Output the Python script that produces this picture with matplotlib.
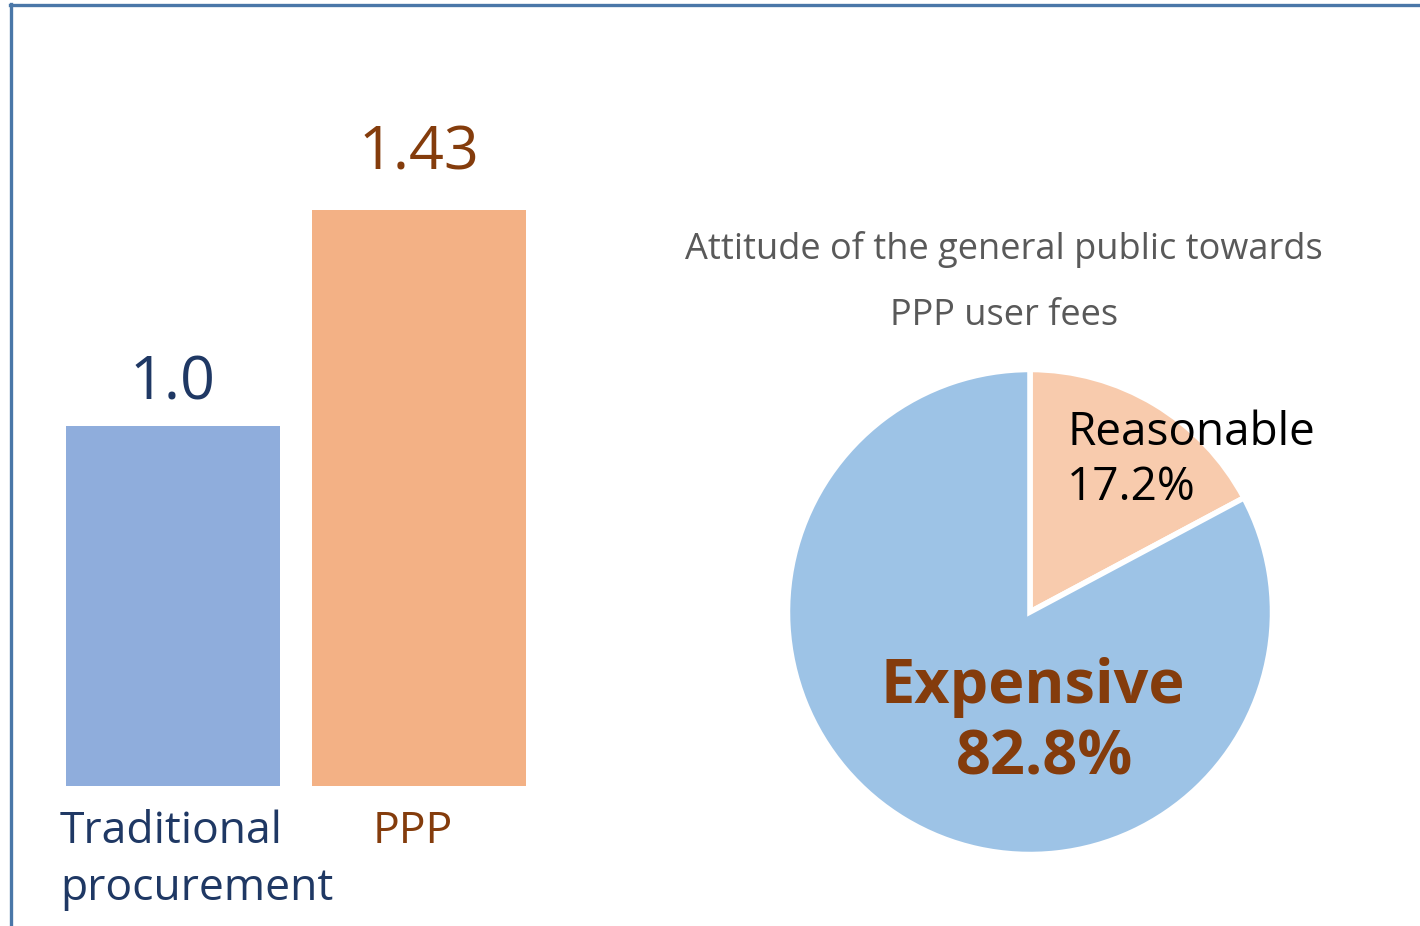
import matplotlib.pyplot as plt
from matplotlib.lines import Line2D

plt.rcParams['font.family'] = ['Open Sans', 'DejaVu Sans']

# data
bar_labels = ['Traditional\nprocurement', 'PPP']
bar_values = [1.0, 1.43]
bar_value_text = ['1.0', '1.43']
bar_colors = ['#8faddc', '#f3b185']
text_colors = ['#1f3864', '#843c0c']

pie_labels = ['Reasonable', 'Expensive']
pie_values = [17.2, 82.8]
pie_colors = ['#f8cbad', '#9dc3e6']
pie_title = ['Attitude of the general public towards', 'PPP user fees']

W, H = 1420, 926
fig = plt.figure(figsize=(W / 100, H / 100), dpi=100)

# bar chart (axis does not start at zero, as in the original)
ax = fig.add_axes([50 / W, 140 / H, 500 / W, 786 / H])
x = [0, 1]
ax.bar(x, bar_values, width=0.87, color=bar_colors)
ax.set_xlim(-0.5, 1.533)
ax.set_ylim(0.283, 1.849)
ax.axis('off')
ax.text(0, bar_values[0] + 0.085, bar_value_text[0], ha='center', va='center',
        fontsize=44, color=text_colors[0])
ax.text(1, bar_values[1] + 0.113, bar_value_text[1], ha='center', va='center',
        fontsize=44, color=text_colors[1])
fig.text(60 / W, 1 - 832 / H, bar_labels[0].split('\n')[0], ha='left', va='center',
         fontsize=32, color=text_colors[0])
fig.text(60 / W, 1 - 889 / H, bar_labels[0].split('\n')[1], ha='left', va='center',
         fontsize=32, color=text_colors[0])
fig.text(413 / W, 1 - 832 / H, bar_labels[1], ha='center', va='center',
         fontsize=32, color=text_colors[1])

# pie chart
pax = fig.add_axes([770 / W, 54 / H, 520 / W, 520 / H])
pax.pie(pie_values, colors=pie_colors, startangle=90, counterclock=False,
        wedgeprops=dict(edgecolor='white', linewidth=4))
pax.set_xlim(-1.072, 1.072)
pax.set_ylim(-1.072, 1.072)
pax.set_aspect('equal')

fig.text(1004 / W, 1 - 250 / H, pie_title[0], ha='center', va='center',
         fontsize=26, color='#595959')
fig.text(1004 / W, 1 - 316 / H, pie_title[1], ha='center', va='center',
         fontsize=26, color='#595959')
fig.text(1067 / W, 1 - 433 / H, pie_labels[0], ha='left', va='center',
         fontsize=33, color='black')
fig.text(1067 / W, 1 - 488 / H, f'{pie_values[0]}%', ha='left', va='center',
         fontsize=33, color='black')
fig.text(1033 / W, 1 - 687 / H, pie_labels[1], ha='center', va='center',
         fontsize=44, fontweight='bold', color='#843c0c')
fig.text(1044 / W, 1 - 759 / H, f'{pie_values[1]}%', ha='center', va='center',
         fontsize=44, fontweight='bold', color='#843c0c')

# frame lines at top and left
fig.add_artist(Line2D([10.5 / W, 10.5 / W], [0, 1 - 4 / H],
                      transform=fig.transFigure, color='#4a77a8', lw=2.4))
fig.add_artist(Line2D([9.5 / W, 1], [1 - 5 / H, 1 - 5 / H],
                      transform=fig.transFigure, color='#4a77a8', lw=2.4))

fig.savefig('out.png', dpi=100)
